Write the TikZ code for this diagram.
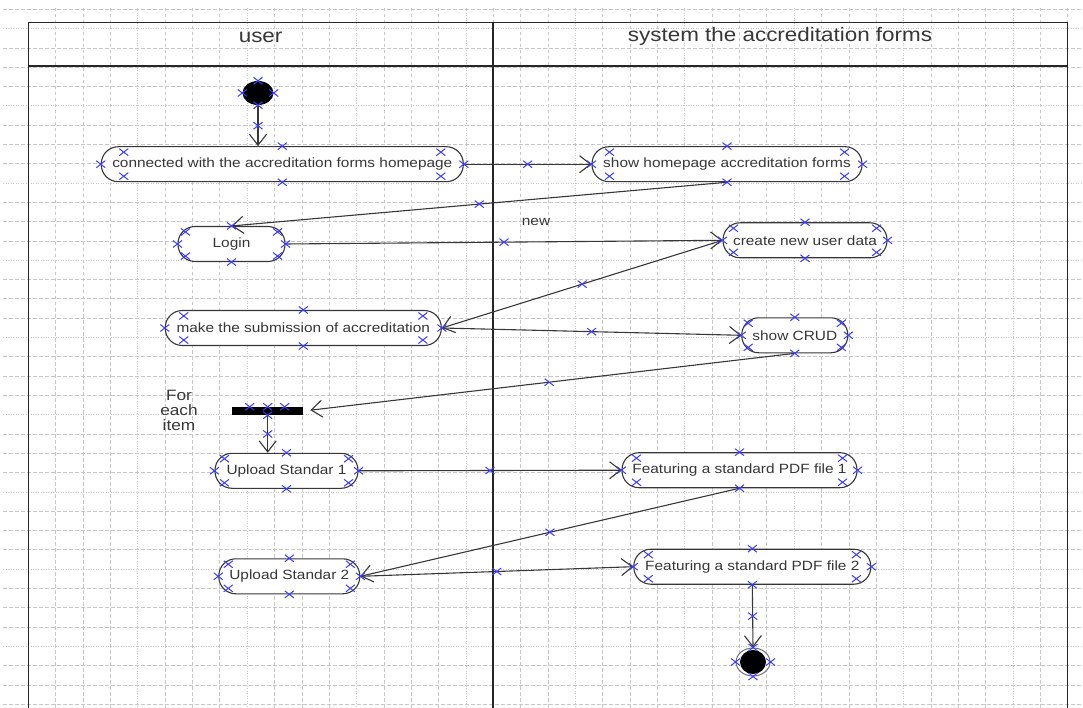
\documentclass[tikz,border=0pt]{standalone}
\usepackage{fontspec}
\setmainfont{Liberation Sans}[FakeStretch=1.15]
\usepackage{xcolor}
\usetikzlibrary{arrows.meta,shapes.geometric,decorations.markings}
\definecolor{hdlblue}{RGB}{60,60,255}
\definecolor{ink}{RGB}{55,55,55}
\tikzset{
  hdl/.pic={\draw[-, solid, hdlblue, line width=1pt] (-4.5,-3.5) -- (4.5,3.5) (-4.5,3.5) -- (4.5,-3.5);},
  act/.style={draw=ink, line width=1.1pt, fill=white, rounded corners=17pt, minimum height=35pt, inner sep=0pt, text=ink, font=\fontsize{13.4}{16}\selectfont},
  conn/.style={draw=ink, line width=1.1pt, -{Straight Barb[length=11pt,width=17pt]}, postaction={decorate}, decoration={markings, mark=at position 0.5 with {\pic{hdl};}}},
  gdash/.style={black!22, line width=0.6pt, dash pattern=on 3.5pt off 2.5pt},
  gdot/.style={black!22, line width=0.6pt, dash pattern=on 1pt off 1.5pt},
  lane/.style={black!85, line width=1.4pt},
}
\newcommand\hdls[2]{%
  \foreach \a in {north,south,east,west}{\pic at (#1.\a) {hdl};}
  \pic at ([shift={(#2,6)}]#1.north west) {hdl};
  \pic at ([shift={(-#2,6)}]#1.north east) {hdl};
  \pic at ([shift={(#2,-6)}]#1.south west) {hdl};
  \pic at ([shift={(-#2,-6)}]#1.south east) {hdl};
}
\begin{document}
\begin{tikzpicture}[x=1pt,y=-1pt]
\useasboundingbox (0,0) rectangle (1083,708);
% grid
\foreach \k in {1,...,38}{
  \pgfmathtruncatemacro\m{mod(\k,4)}
  \ifnum\m=0 \draw[gdot] ({28.3+27.35*\k},8) -- ++(0,700);
  \else \draw[gdash] ({28.3+27.35*\k},8) -- ++(0,700); \fi}
\foreach \k in {0,...,36}{
  \pgfmathtruncatemacro\m{mod(\k,4)}
  \ifnum\m=1 \draw[gdot] (3,{9.3+19.3*\k}) -- (1083,{9.3+19.3*\k});
  \else \draw[gdash] (3,{9.3+19.3*\k}) -- (1083,{9.3+19.3*\k}); \fi}
% swimlanes
\draw[lane] (28.3,708) |- (1067.7,22.3) -- (1067.7,708);
\draw[lane] (28.3,66) -- (1067.7,66);
\draw[lane] (493,22.3) -- (493,708);
\node[text=ink, font=\fontsize{19.5}{22}\selectfont] (hdruser) at (260.6,37) {user};
\node[text=ink, font=\fontsize{19.5}{22}\selectfont] (hdrsys) at (780,36) {system the accreditation forms};
% activities
\node[ellipse, fill=black, minimum width=31pt, minimum height=24pt, inner sep=0pt] (init) at (258,93) {};
\node[act, minimum width=362pt] (con) at (282.3,164.2) {connected with the accreditation forms homepage};
\node[act, minimum width=270pt] (home) at (727,164.2) {show homepage accreditation forms};
\node[act, minimum width=107pt] (login) at (231.5,244) {Login};
\node[act, minimum width=164pt] (create) at (805,240.3) {create new user data};
\node[act, minimum width=276pt] (sub) at (303.3,328) {make the submission of accreditation};
\node[act, minimum width=106pt] (crud) at (794.8,335.3) {show CRUD};
\node[fill=black, minimum width=71pt, minimum height=8pt, inner sep=0pt] (fork) at (267.7,411) {};
\node[align=center, text=ink, font=\fontsize{15}{15}\selectfont] (each) at (179,410) {For\\each\\item};
\node[act, minimum width=143pt] (up1) at (286.5,470.8) {Upload Standar 1};
\node[act, minimum width=235pt] (feat1) at (739.5,470.2) {Featuring a standard PDF file 1};
\node[act, minimum width=141pt] (up2) at (289.3,576.3) {Upload Standar 2};
\node[act, minimum width=237pt] (feat2) at (752.3,566.7) {Featuring a standard PDF file 2};
\node[ellipse, draw=black!55, line width=1pt, fill=white, minimum width=34pt, minimum height=28pt, inner sep=0pt] (fin) at (753,662) {};
\fill[black] (fin) ellipse [x radius=13, y radius=12];
\node[text=ink, font=\fontsize{13.4}{16}\selectfont] (lblnew) at (536,222) {new};
% transitions
\draw[conn] (init.south) -- (init.south |- con.north);
\draw[conn] (con.east) -- (home.west);
\draw[conn] (home.south) -- (login.north);
\draw[conn] (login.east) -- (create.west);
\draw[conn] (create.west) -- (sub.east);
\draw[conn] (sub.east) -- (crud.west);
\draw[conn, shorten >=7pt] (crud.south) -- (fork.east);
\draw[conn] (fork.south) -- (fork.south |- up1.north);
\draw[conn] (up1.east) -- (feat1.west);
\draw[conn] (feat1.south) -- (up2.east);
\draw[conn] (up2.east) -- (feat2.west);
\draw[conn] (feat2.south) -- (fin.north);
% selection handles
\foreach \a in {north,south,east,west}{\pic at (init.\a) {hdl}; \pic at (fin.\a) {hdl};}
\foreach \d in {-18,0,17}{\pic at ([xshift=\d pt]fork.north) {hdl};}
\pic at (fork.south) {hdl};
\hdls{con}{23}
\hdls{home}{18}
\hdls{login}{8}
\hdls{create}{11}
\hdls{sub}{19}
\hdls{crud}{7}
\hdls{up1}{10}
\hdls{up2}{10}
\hdls{feat1}{15}
\hdls{feat2}{15}
\end{tikzpicture}
\end{document}
